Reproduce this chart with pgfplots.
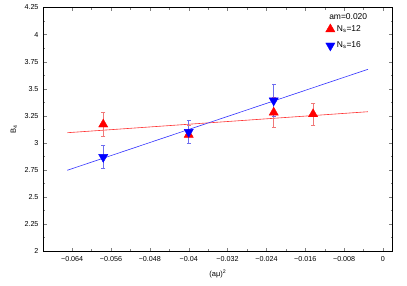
\documentclass[border=0pt]{standalone}
\usepackage{pgfplots}
\pgfplotsset{compat=1.18}
\usepackage{fontspec}
\setmainfont{Liberation Sans}
\definecolor{errred}{RGB}{240,120,120}
\definecolor{errblue}{RGB}{110,110,240}
\begin{document}
\begin{tikzpicture}
\begin{axis}[
  scale only axis, width=349.7bp, height=243.5bp,
  xmin=-0.070, xmax=0.002, ymin=2, ymax=4.25,
  scaled x ticks=false, scaled y ticks=false,
  xtick={-0.064,-0.056,-0.048,-0.040,-0.032,-0.024,-0.016,-0.008,0},
  xticklabels={−0.064,−0.056,−0.048,−0.04,−0.032,−0.024,−0.016,−0.008,0},
  ytick={2,2.25,2.5,2.75,3,3.25,3.5,3.75,4,4.25},
  yticklabels={2,2.25,2.5,2.75,3,3.25,3.5,3.75,4,4.25},
  minor x tick num=1, minor y tick num=1,
  tick align=inside,
  major tick length=3.5bp, minor tick length=2bp,
  axis line style={line width=0.8bp},
  tick label style={font=\fontsize{7.2}{8}\selectfont},
  xticklabel style={yshift=-1.5bp},
  yticklabel style={xshift=-1bp},
  xlabel={(aμ)\textsuperscript{2}},
  ylabel={B\textsubscript{4}},
  label style={font=\fontsize{7.5}{9}\selectfont},
  xlabel style={at={(rel axis cs:0.5,0)}, anchor=north, yshift=-15bp},
  ylabel style={at={(rel axis cs:-0.083,0.5)}, anchor=center},
  legend style={draw=none, fill=none, at={(rel axis cs:0.808,0.935)}, anchor=north west,
    font=\fontsize{8.5}{9}\selectfont, row sep=5bp, inner sep=0pt, cells={anchor=west}},
  legend image code/.code={\draw[mark repeat=2,mark phase=2] plot coordinates {(0bp,0bp)(5bp,0bp)(13bp,0bp)};},
  rederr/.style={color=errred, line width=0.8bp, mark=-, mark size=2.2bp, mark options={color=errred, line width=0.8bp}, forget plot},
  blueerr/.style={color=errblue, line width=0.8bp, mark=-, mark size=2.2bp, mark options={color=errblue, line width=0.8bp}, forget plot},
]
\addplot[red!80, line width=0.6bp, no marks, forget plot] coordinates {(-0.065,3.093) (-0.0031,3.287)};
\addplot[blue!80, line width=0.6bp, no marks, forget plot] coordinates {(-0.065,2.746) (-0.0031,3.679)};
% error bars (value minus/plus error)
\addplot[rederr] coordinates {(-0.0576,3.060) (-0.0576,3.280)};
\addplot[rederr] coordinates {(-0.0400,2.990) (-0.0400,3.160)};
\addplot[rederr] coordinates {(-0.0225,3.140) (-0.0225,3.420)};
\addplot[rederr] coordinates {(-0.0144,3.165) (-0.0144,3.365)};
\addplot[blueerr] coordinates {(-0.0576,2.763) (-0.0576,2.973)};
\addplot[blueerr] coordinates {(-0.0400,2.992) (-0.0400,3.208)};
\addplot[blueerr] coordinates {(-0.0225,3.245) (-0.0225,3.535)};
\addplot[only marks, mark=triangle*, mark size=5.3bp, color=red, mark options={fill=red, draw=red}]
  table[x=x, y=y] {
  x y
  -0.0576 3.17
  -0.0400 3.075
  -0.0225 3.28
  -0.0144 3.265
  };
\addlegendentry{N\textsubscript{s}=12}
\addplot[only marks, mark=triangle*, mark size=5.3bp, color=blue, mark options={fill=blue, draw=blue, rotate=180}]
  table[x=x, y=y] {
  x y
  -0.0576 2.868
  -0.0400 3.100
  -0.0225 3.390
  };
\addlegendentry{N\textsubscript{s}=16}
\node[anchor=west, font=\fontsize{8.5}{9}\selectfont, inner sep=0pt] at (rel axis cs:0.818,0.961) {am=0.020};
\end{axis}
\pgfresetboundingbox
\path ([shift={(-43bp,-34bp)}]current axis.south west) rectangle ([shift={(14.3bp,7.5bp)}]current axis.north east);
\end{tikzpicture}
\end{document}
